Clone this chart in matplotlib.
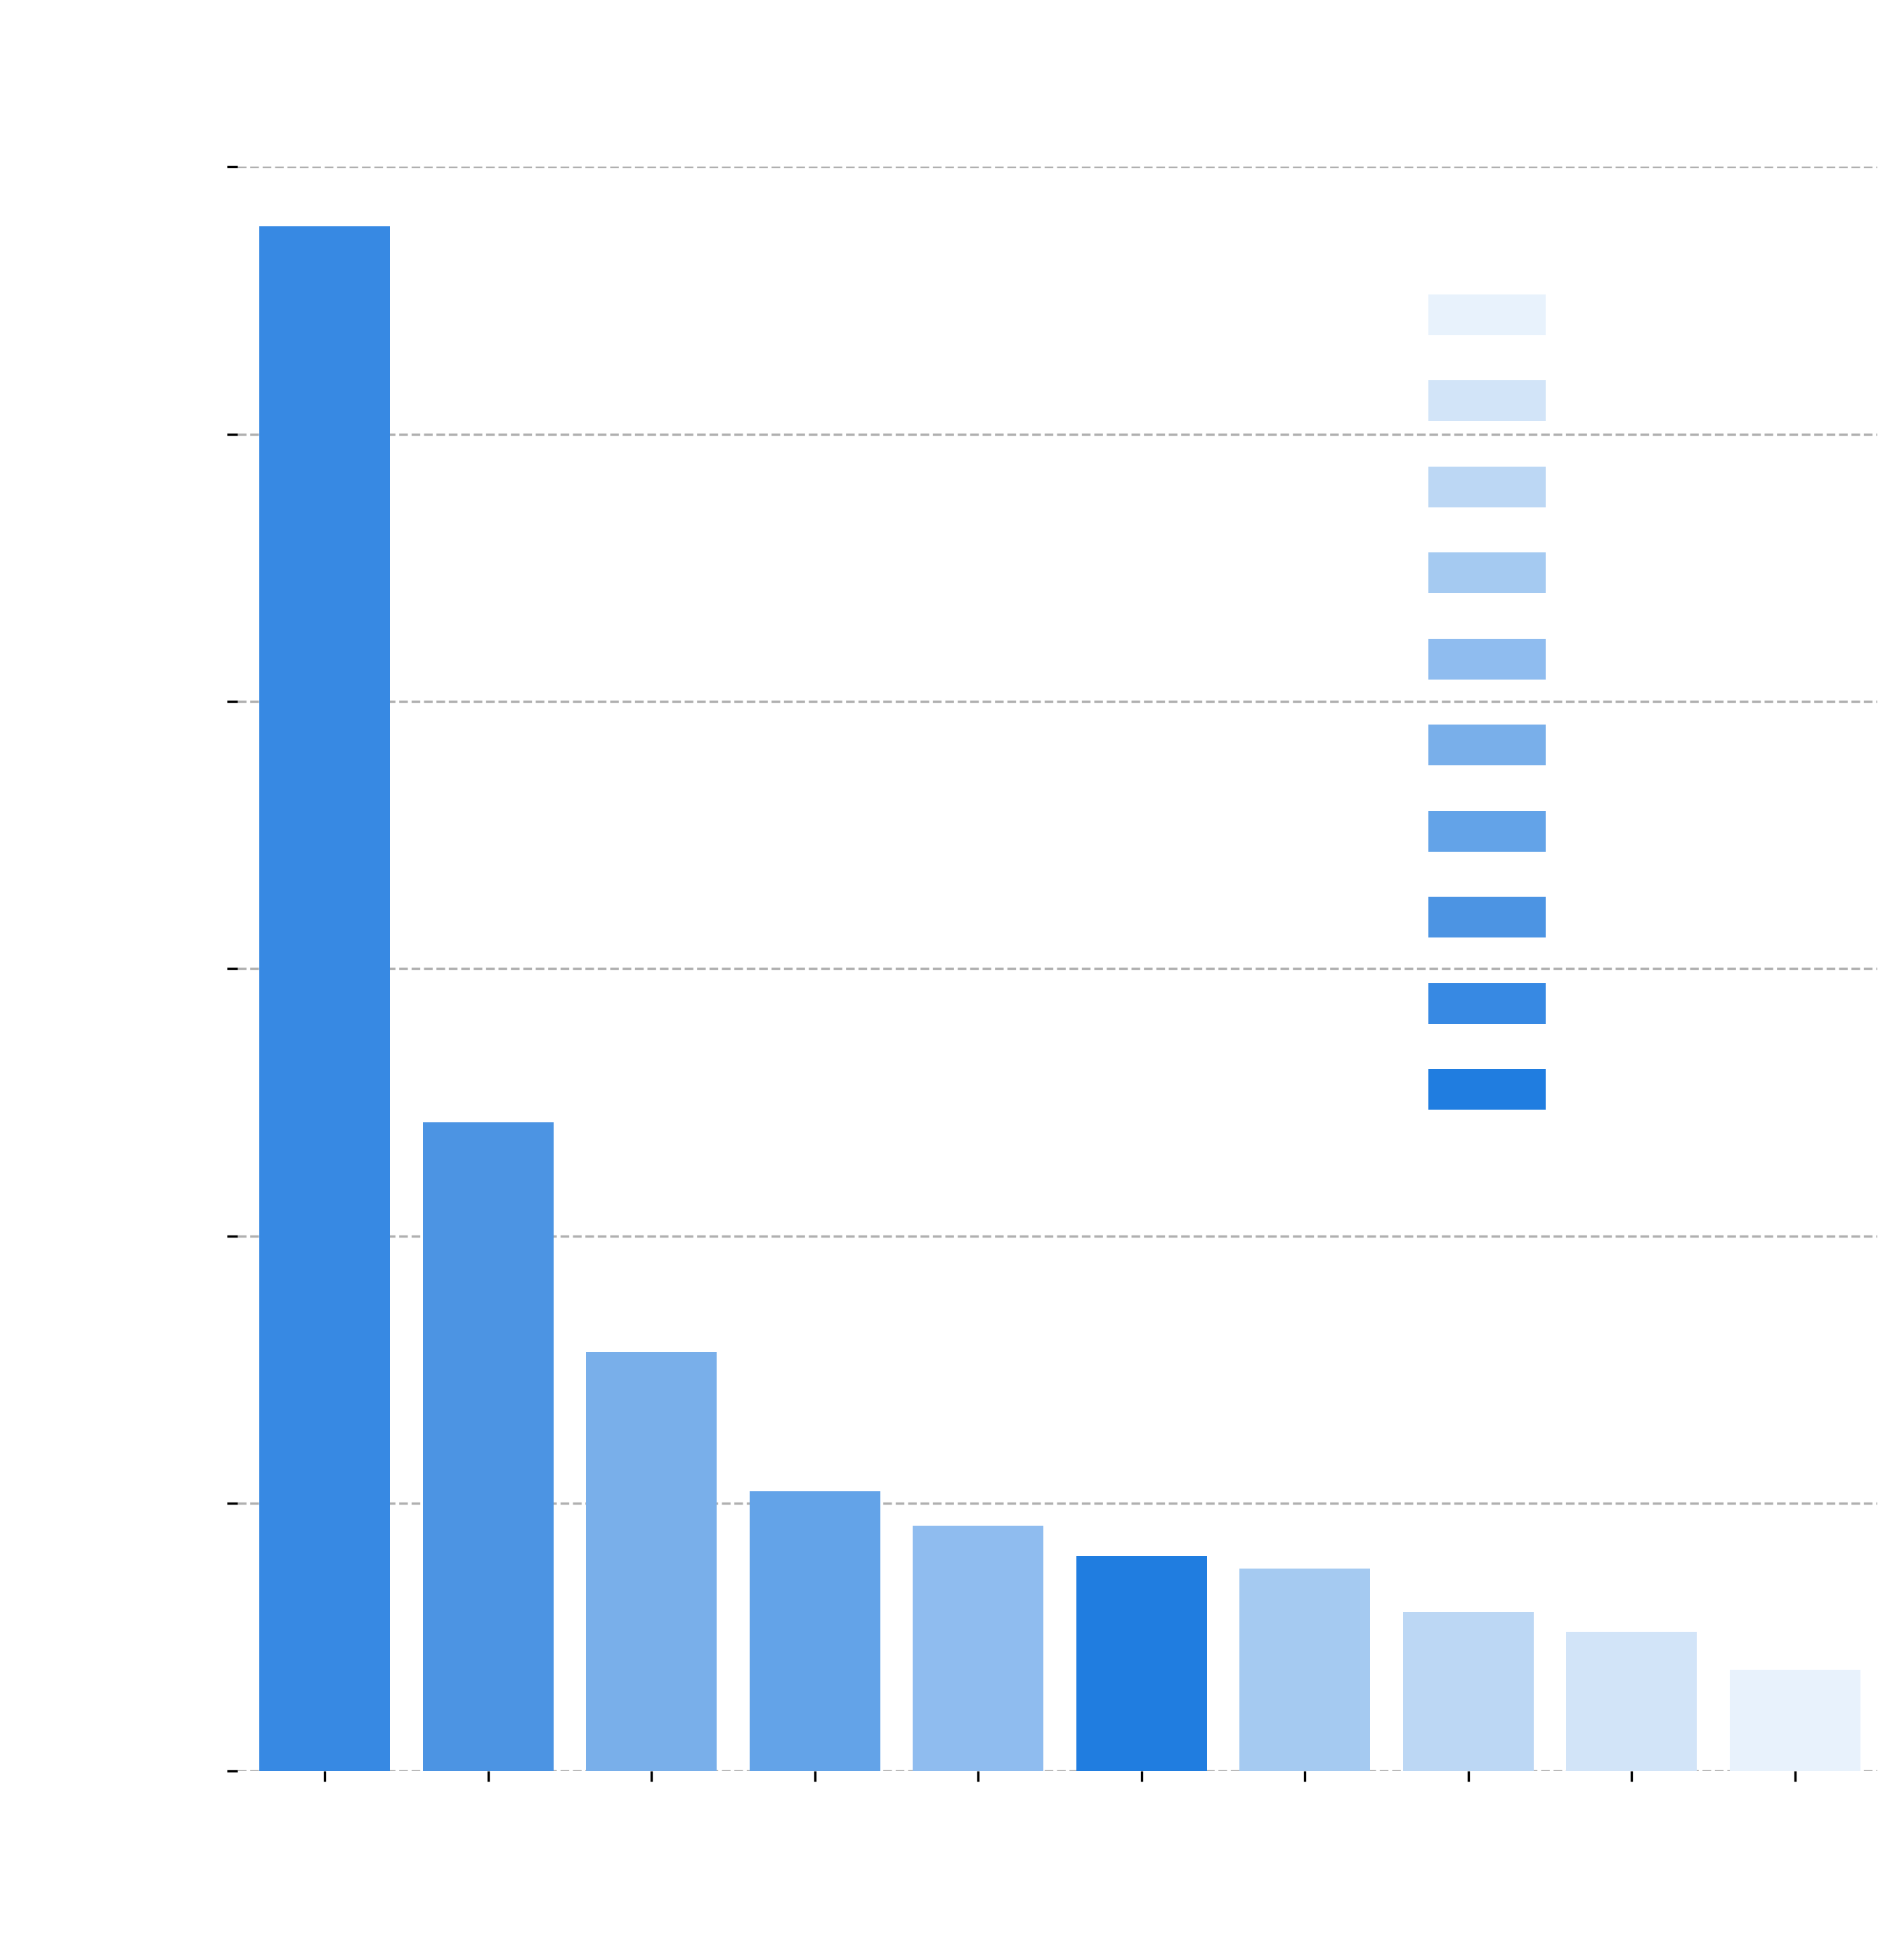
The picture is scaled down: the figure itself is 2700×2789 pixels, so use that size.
import matplotlib
matplotlib.use("Agg")
from matplotlib import pyplot as plt
from matplotlib.patches import Patch

# data
ranks = ["1", "2", "3", "4", "5", "6", "7", "8", "9", "10"]
genres = ["Sports", "Shooter", "Racing", "RPG", "Puzzle",
          "Strategy", "Platform", "Misc", "Fighting", "Action"]
sales = [577.6, 242.5, 156.5, 104.7, 91.6, 80.4, 75.7, 59.4, 51.9, 37.9]

# legend / palette order, light to dark
genre_order = ["Action", "Fighting", "Misc", "Platform", "Puzzle",
               "Racing", "RPG", "Shooter", "Sports", "Strategy"]
palette = ["#e8f2fc", "#d2e4f8", "#bcd7f4", "#a5caf1", "#8fbcef",
           "#79afea", "#63a3e8", "#4c94e3", "#3789e3", "#207de0"]

yticks = [0, 100, 200, 300, 400, 500, 600]

TXT = "white"
plt.rcParams["font.family"] = ["DejaVu Sans"]
plt.rcParams["font.size"] = 18

fig = plt.figure(figsize=(9, 2789 / 300), dpi=300)
ax = fig.add_axes([0.1252, 0.0965, 0.9896 - 0.1252, 0.915 - 0.0965])

color_of = dict(zip(genre_order, palette))
xs = list(range(len(ranks)))
ax.bar(xs, sales, width=0.8, color=[color_of[g] for g in genres], zorder=3)

ax.set_xlim(-0.535, 9.505)
ax.set_ylim(0, 600)
ax.set_xticks(xs)
ax.set_xticklabels(ranks, color=TXT, fontsize=18)
ax.set_yticks(yticks)
ax.set_yticklabels([str(v) for v in yticks], color=TXT, fontsize=18)
ax.tick_params(axis="both", length=3.6, width=0.8, color="black")
ax.tick_params(axis="y", pad=5)

ax.yaxis.grid(True, linestyle="--", linewidth=0.8, color="#b0b0b0", zorder=0)
ax.set_axisbelow(True)
for s in ax.spines.values():
    s.set_visible(False)

ax.set_xlabel("Rank", color=TXT, fontsize=18, labelpad=10)
ax.set_ylabel("Units", color=TXT, fontsize=18, labelpad=14)

handles = [Patch(facecolor=c, edgecolor="none") for c in palette]
leg = ax.legend(handles, genre_order, title="Genre", frameon=False,
                loc="upper left", bbox_to_anchor=(0.6973, 1.0045),
                fontsize=18, title_fontsize=18, handlelength=2.23,
                handleheight=0.82, labelspacing=0.66, handletextpad=1.0)
for t in leg.get_texts():
    t.set_color(TXT)
leg.get_title().set_color(TXT)

fig.text(0.537, 0.971, "10 Video Game Genres by Sales", ha="center", va="center",
         fontsize=22, color=TXT)

fig.savefig("out.png", dpi=300, facecolor="white")
